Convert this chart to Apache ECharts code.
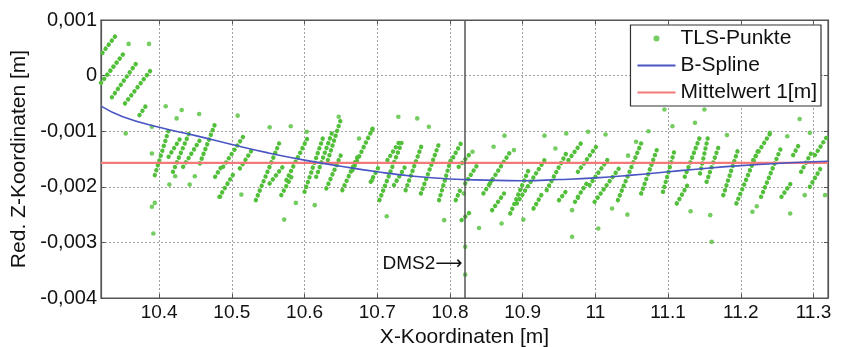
<!DOCTYPE html>
<html>
<head>
<meta charset="utf-8">
<script src="https://cdn.jsdelivr.net/npm/echarts@6/dist/echarts.min.js"></script>
<style>
  html, body { margin: 0; padding: 0; background: #fff; }
  #chart { width: 841px; height: 347px; }
</style>
</head>
<body>
<div id="chart"></div>
<script>
// x in m, z in mm (axis labels show m)
const xTicks = [10.4, 10.5, 10.6, 10.7, 10.8, 10.9, 11, 11.1, 11.2, 11.3];
const zTicks = [1, 0, -1, -2, -3, -4];

// TLS scan stripes: [x start, z start, x end, z end]
const tlsStripes = [
  [10.322, 0.41, 10.342, 0.75], [10.320, -0.13, 10.353, 0.43], [10.335, -0.39, 10.370, 0.25],
  [10.353, -0.50, 10.388, 0.09], [10.373, -0.71, 10.384, -0.50], [10.394, -1.79, 10.413, -0.98],
  [10.413, -1.46, 10.429, -1.13], [10.419, -1.73, 10.443, -0.98], [10.433, -1.64, 10.456, -1.16],
  [10.456, -1.58, 10.478, -0.83], [10.477, -1.82, 10.487, -1.61],
  [10.483, -2.18, 10.504, -1.73], [10.488, -1.64, 10.517, -1.07], [10.511, -1.67, 10.529, -1.31],
  [10.533, -2.24, 10.566, -1.19], [10.552, -1.94, 10.570, -1.64], [10.568, -2.15, 10.582, -1.82],
  [10.575, -1.88, 10.605, -1.10], [10.600, -2.09, 10.625, -1.13], [10.616, -1.82, 10.639, -0.98],
  [10.630, -2.03, 10.651, -1.40], [10.632, -1.52, 10.651, -0.74],
  [10.652, -2.06, 10.675, -1.40], [10.666, -1.70, 10.696, -0.89], [10.691, -1.91, 10.702, -1.64],
  [10.703, -2.24, 10.735, -1.16], [10.714, -1.52, 10.732, -1.16], [10.723, -1.97, 10.741, -1.58],
  [10.739, -2.06, 10.762, -1.22], [10.760, -2.12, 10.785, -1.22], [10.785, -2.24, 10.801, -1.52],
  [10.801, -1.55, 10.815, -1.22], [10.808, -2.24, 10.815, -2.03],
  [10.812, -1.64, 10.830, -1.37], [10.821, -1.94, 10.839, -1.58], [10.816, -2.60, 10.828, -2.45],
  [10.846, -2.12, 10.858, -1.88], [10.855, -1.94, 10.883, -1.37], [10.858, -2.42, 10.876, -2.09],
  [10.883, -2.48, 10.910, -1.64], [10.892, -2.30, 10.933, -1.46], [10.915, -2.39, 10.927, -2.12],
  [10.933, -2.06, 10.961, -1.37], [10.950, -2.24, 10.959, -2.09], [10.963, -1.52, 10.980, -1.22],
  [10.972, -2.27, 10.980, -2.12],
  [10.976, -2.18, 10.988, -1.94], [10.976, -1.73, 11.001, -1.28], [10.992, -1.97, 11.018, -1.49],
  [10.999, -2.27, 11.034, -1.64], [11.031, -2.24, 11.063, -1.22], [11.063, -2.12, 11.086, -1.28],
  [11.093, -2.09, 11.109, -1.34], [11.112, -2.30, 11.128, -1.94], [11.123, -1.82, 11.144, -1.10],
  [11.144, -1.76, 11.155, -1.10], [11.153, -1.91, 11.171, -1.22], [11.176, -2.15, 11.196, -1.34],
  [11.194, -2.30, 11.224, -1.34], [11.217, -1.52, 11.242, -1.01], [11.228, -2.18, 11.256, -1.28],
  [11.256, -2.18, 11.272, -1.88], [11.272, -1.43, 11.281, -1.22], [11.283, -1.73, 11.299, -1.34],
  [11.295, -2.00, 11.311, -1.64], [11.302, -1.43, 11.320, -1.07]
];

// single TLS points: [x, z]
const tlsPoints = [
  [10.386, 0.57], [10.358, 0.57], [10.319, -0.62], [10.354, -1.04], [10.390, -0.92], [10.390, -1.40],
  [10.409, -0.55], [10.431, -0.62], [10.424, -0.77], [10.455, -0.69], [10.414, -1.96], [10.422, -1.81],
  [10.442, -1.96], [10.449, -1.81], [10.390, -2.36], [10.394, -2.29], [10.392, -2.84], [10.484, -2.18],
  [10.508, -0.72], [10.552, -0.93], [10.581, -0.91], [10.603, -1.01], [10.513, -2.14], [10.588, -2.29],
  [10.572, -2.59], [10.614, -2.33],
  [10.647, -0.74], [10.729, -0.74], [10.755, -0.77], [10.771, -0.92], [10.693, -0.98], [10.693, -1.88],
  [10.713, -2.53], [10.792, -2.60], [10.675, -1.13],
  [10.831, -1.37], [10.860, -1.28], [10.875, -1.08], [10.888, -1.34], [10.930, -1.08], [10.945, -1.31],
  [10.960, -1.04], [10.968, -2.42], [10.840, -2.74], [10.871, -2.66], [10.901, -2.59], [10.968, -2.90],
  [10.821, -3.08], [10.821, -3.58], [10.819, -2.12],
  [10.990, -1.01], [11.014, -1.06], [11.073, -1.00], [11.095, -0.61], [11.106, -0.91], [11.137, -0.85],
  [11.023, -2.39], [11.044, -2.50], [11.004, -2.75], [11.131, -2.44], [11.045, -1.44], [11.056, -1.19],
  [11.150, -0.61], [11.181, -1.07], [11.240, -1.03], [11.264, -1.09], [11.281, -0.78], [11.295, -1.03],
  [11.160, -2.99], [11.158, -2.51], [11.216, -2.45], [11.222, -2.35], [11.268, -2.48], [11.288, -2.15],
  [11.316, -2.15]
];

const splineX = [10.32, 10.35, 10.40, 10.45, 10.50, 10.55, 10.60, 10.65, 10.70, 10.75, 10.80,
  10.85, 10.90, 10.95, 11.00, 11.05, 11.10, 11.15, 11.20, 11.25, 11.30, 11.32];
const splineZ = [-0.55, -0.74, -0.93, -1.08, -1.24, -1.39, -1.52, -1.63, -1.73, -1.81, -1.86,
  -1.88, -1.89, -1.87, -1.84, -1.79, -1.73, -1.67, -1.62, -1.58, -1.55, -1.54];

const meanZ = -1.57;
const xRange = [10.32, 11.32];
const dmsX = 10.82;
const dmsLabelZ = -3.38;

const font = 'Liberation Sans, Arial, sans-serif';
const green = '#52bf3a';
const ink = '#111';

function zLabel(v) {
  if (v === 0) return '0';
  return (v / 1000).toFixed(3).replace('.', ',');
}

const chart = echarts.init(document.getElementById('chart'));

const gridLine = { show: true, lineStyle: { color: '#a0a0a0', type: [2, 2], width: 1 } };
const frameTick = { show: true, inside: true, length: 4, lineStyle: { color: '#555' } };
const frameLine = { show: true, onZero: false, lineStyle: { color: '#555', width: 1.2 } };

chart.setOption({
  backgroundColor: '#fff',
  animation: false,
  grid: {
    left: 101, right: 13, top: 20, bottom: 49,
    outerBoundsMode: 'none',
    show: true, borderColor: '#555', borderWidth: 1.2
  },
  legend: {
    orient: 'vertical',
    right: 20,
    top: 25,
    padding: [3, 4, 3, 6],
    itemGap: 6,
    itemWidth: 38,
    itemHeight: 6,
    borderColor: '#333',
    borderWidth: 1.2,
    borderRadius: 0,
    backgroundColor: '#fff',
    textStyle: { fontFamily: font, fontSize: 21, color: ink },
    data: [
      { name: 'TLS-Punkte', icon: 'circle' },
      { name: 'B-Spline', itemStyle: { opacity: 0 } },
      { name: 'Mittelwert 1[m]', itemStyle: { opacity: 0 } }
    ]
  },
  xAxis: [{
    type: 'value',
    min: xRange[0],
    max: xRange[1],
    splitNumber: 10,
    name: 'X-Koordinaten [m]',
    nameLocation: 'middle',
    nameGap: 27,
    nameTextStyle: { fontFamily: font, fontSize: 21, color: ink },
    axisLine: frameLine,
    axisTick: frameTick,
    axisLabel: {
      fontFamily: font, fontSize: 19, color: ink, margin: 5,
      showMinLabel: false, showMaxLabel: false,
      formatter: v => xTicks.some(t => Math.abs(t - v) < 1e-6) ? String(+v.toFixed(1)) : ''
    },
    splitLine: gridLine
  }, {
    type: 'value',
    position: 'top',
    min: xRange[0],
    max: xRange[1],
    splitNumber: 10,
    axisLine: frameLine,
    axisTick: frameTick,
    axisLabel: { show: false },
    splitLine: { show: false }
  }],
  yAxis: [{
    type: 'value',
    min: zTicks[zTicks.length - 1],
    max: zTicks[0],
    interval: 1,
    name: 'Red. Z-Koordinaten [m]',
    nameLocation: 'middle',
    nameGap: 70,
    nameTextStyle: { fontFamily: font, fontSize: 21, color: ink },
    axisLine: frameLine,
    axisTick: frameTick,
    axisLabel: { fontFamily: font, fontSize: 20, color: ink, margin: 4, formatter: zLabel },
    splitLine: gridLine
  }, {
    type: 'value',
    position: 'right',
    min: zTicks[zTicks.length - 1],
    max: zTicks[0],
    interval: 1,
    axisLine: frameLine,
    axisTick: frameTick,
    axisLabel: { show: false },
    splitLine: { show: false }
  }],
  series: [
    {
      name: 'TLS-Punkte',
      type: 'scatter',
      symbol: 'circle',
      symbolSize: 4.6,
      itemStyle: { color: green },
      data: tlsPoints,
      z: 3
    },
    {
      name: 'TLS-Punkte',
      type: 'lines',
      coordinateSystem: 'cartesian2d',
      polyline: false,
      silent: true,
      lineStyle: { color: green, width: 4.4, type: [0.1, 5], cap: 'round', opacity: 1, curveness: 0 },
      data: tlsStripes.map(s => ({ coords: [[s[0], s[1]], [s[2], s[3]]] })),
      z: 3
    },
    {
      name: 'Mittelwert 1[m]',
      type: 'line',
      symbol: 'none',
      itemStyle: { color: '#f47a7a' },
      lineStyle: { color: '#f47a7a', width: 2.2 },
      data: [[xRange[0], meanZ], [xRange[1], meanZ]],
      z: 4
    },
    {
      name: 'B-Spline',
      type: 'line',
      symbol: 'none',
      smooth: true,
      itemStyle: { color: '#4a55c4' },
      lineStyle: { color: '#4a55c4', width: 1.6 },
      data: splineX.map((x, i) => [x, splineZ[i]]),
      z: 5,
      markLine: {
        silent: true,
        symbol: 'none',
        label: { show: false },
        lineStyle: { color: '#555', type: 'solid', width: 1.5 },
        data: [{ xAxis: dmsX }]
      },
      markPoint: {
        silent: true,
        symbol: 'circle',
        symbolSize: 0,
        label: {
          show: true,
          position: 'left',
          distance: 2,
          fontFamily: 'Liberation Sans, DejaVu Sans, sans-serif',
          fontSize: 19,
          color: ink,
          formatter: 'DMS2\u27F6'
        },
        data: [{ coord: [dmsX, dmsLabelZ] }]
      }
    }
  ]
});
</script>
</body>
</html>
